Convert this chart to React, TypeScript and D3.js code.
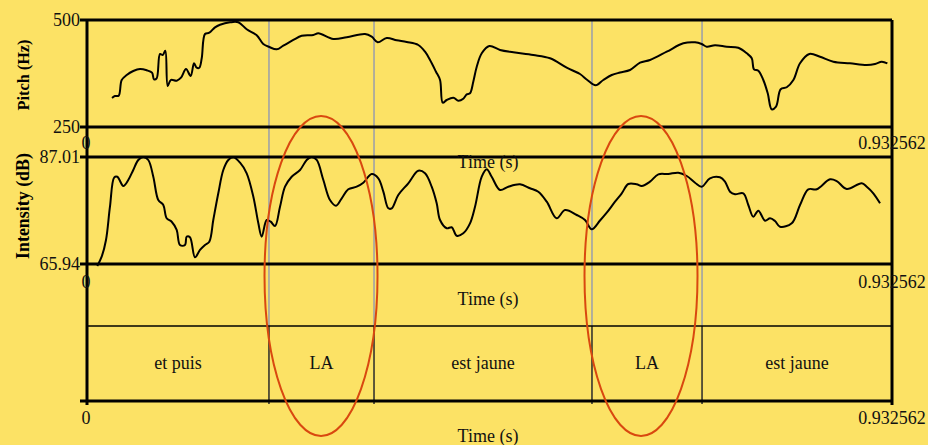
import * as d3 from "d3"
import React, { useRef, useEffect } from "react"

const duration = 0.932562

// pitch contour (s, Hz)
const pitchTime = [0.0290, 0.0324, 0.0367, 0.0402, 0.0460, 0.0536, 0.0614, 0.0692, 0.0753, 0.0776, 0.0807, 0.0846, 0.0877, 0.0907, 0.0935, 0.0970, 0.1039, 0.1089, 0.1147, 0.1201, 0.1240, 0.1271, 0.1301, 0.1329, 0.1367, 0.1417, 0.1483, 0.1541, 0.1657, 0.1753, 0.1850, 0.1966, 0.2042, 0.2112, 0.2198, 0.2274, 0.2390, 0.2487, 0.2622, 0.2680, 0.2853, 0.3009, 0.3221, 0.3298, 0.3368, 0.3472, 0.3588, 0.3704, 0.3838, 0.3916, 0.3974, 0.4043, 0.4090, 0.4121, 0.4167, 0.4244, 0.4302, 0.4359, 0.4399, 0.4437, 0.4475, 0.4515, 0.4573, 0.4661, 0.4785, 0.4939, 0.5170, 0.5364, 0.5557, 0.5711, 0.5796, 0.5893, 0.5981, 0.6079, 0.6175, 0.6291, 0.6407, 0.6522, 0.6716, 0.6908, 0.7044, 0.7121, 0.7179, 0.7275, 0.7411, 0.7545, 0.7643, 0.7701, 0.7727, 0.7777, 0.7835, 0.7886, 0.7932, 0.7982, 0.8036, 0.8106, 0.8183, 0.8260, 0.8368, 0.8492, 0.8646, 0.8839, 0.9033, 0.9129, 0.9207, 0.9272]
const pitchHz = [317.8, 322.4, 323.1, 359.8, 371.5, 380.8, 385.5, 382.5, 376.9, 361.4, 363.8, 420.6, 418.2, 428.3, 345.8, 359.8, 358.2, 365.2, 385.5, 369.2, 398.8, 388.5, 388.5, 410.5, 467.3, 470.3, 482.9, 489.0, 494.6, 494.6, 478.3, 464.3, 443.9, 436.9, 431.5, 440.0, 453.3, 463.3, 464.9, 468.9, 455.6, 459.6, 467.3, 461.0, 447.9, 457.9, 452.6, 448.6, 441.6, 425.9, 406.5, 379.2, 359.8, 306.8, 313.1, 318.5, 311.4, 316.1, 326.4, 328.7, 355.8, 390.9, 422.2, 439.2, 429.9, 424.5, 418.2, 410.5, 388.5, 373.8, 359.8, 347.4, 359.8, 371.5, 377.3, 383.2, 400.2, 406.5, 425.9, 445.6, 447.9, 443.9, 437.6, 440.9, 437.6, 435.3, 422.2, 410.5, 384.8, 381.5, 359.8, 328.7, 291.4, 297.4, 338.1, 342.8, 359.8, 398.8, 420.6, 414.2, 402.6, 398.8, 394.9, 397.2, 402.6, 398.8]

// intensity contour (s, dB)
const intTime = [0.0119, 0.0170, 0.0220, 0.0266, 0.0316, 0.0351, 0.0421, 0.0478, 0.0536, 0.0594, 0.0652, 0.0710, 0.0768, 0.0826, 0.0884, 0.0923, 0.0981, 0.1039, 0.1077, 0.1135, 0.1155, 0.1193, 0.1251, 0.1309, 0.1367, 0.1417, 0.1463, 0.1521, 0.1579, 0.1637, 0.1695, 0.1773, 0.1850, 0.1927, 0.1985, 0.2024, 0.2082, 0.2128, 0.2178, 0.2236, 0.2294, 0.2371, 0.2468, 0.2545, 0.2603, 0.2661, 0.2738, 0.2815, 0.2885, 0.2951, 0.3027, 0.3124, 0.3201, 0.3298, 0.3375, 0.3433, 0.3491, 0.3530, 0.3606, 0.3722, 0.3838, 0.3916, 0.3993, 0.4051, 0.4090, 0.4167, 0.4225, 0.4283, 0.4359, 0.4437, 0.4495, 0.4573, 0.4631, 0.4688, 0.4785, 0.4881, 0.5016, 0.5132, 0.5228, 0.5326, 0.5441, 0.5538, 0.5673, 0.5769, 0.5847, 0.5943, 0.6021, 0.6117, 0.6195, 0.6271, 0.6368, 0.6426, 0.6522, 0.6619, 0.6734, 0.6850, 0.6948, 0.7044, 0.7121, 0.7217, 0.7333, 0.7391, 0.7449, 0.7507, 0.7603, 0.7661, 0.7719, 0.7777, 0.7855, 0.7913, 0.7970, 0.8028, 0.8164, 0.8260, 0.8356, 0.8454, 0.8608, 0.8685, 0.8801, 0.8975, 0.9033, 0.9109, 0.9187]
const intDb = [65.55, 67.38, 70.67, 77.22, 83.01, 83.13, 81.30, 82.48, 84.45, 86.42, 87.0, 86.42, 83.13, 78.54, 77.56, 74.94, 74.27, 72.64, 69.68, 69.68, 71.32, 71.20, 67.26, 68.70, 69.68, 70.33, 74.60, 79.86, 84.45, 86.42, 86.95, 85.89, 83.80, 79.19, 73.95, 71.32, 74.60, 74.27, 73.42, 77.22, 81.16, 83.13, 84.45, 86.42, 87.0, 86.42, 82.48, 78.54, 77.42, 78.88, 80.65, 81.16, 81.95, 83.66, 82.82, 80.18, 76.91, 76.91, 79.53, 81.83, 84.31, 83.80, 81.16, 77.89, 74.60, 72.97, 73.17, 71.51, 71.99, 73.95, 77.22, 83.13, 84.59, 83.13, 80.51, 81.16, 81.63, 80.85, 80.18, 78.21, 74.94, 76.57, 75.59, 74.60, 72.77, 74.5, 76.04, 78.21, 79.86, 81.69, 81.63, 81.30, 82.15, 83.60, 83.66, 83.92, 83.27, 81.95, 81.16, 82.82, 83.01, 82.15, 80.18, 79.67, 79.86, 77.56, 75.25, 76.44, 74.47, 74.94, 74.41, 73.29, 73.95, 77.56, 80.65, 80.65, 82.62, 82.28, 80.71, 81.83, 81.16, 79.86, 77.89]

// text grid tier
const tierBounds = [0.2108, 0.3325, 0.5850, 0.7125]
const tierLabels = ["et puis", "LA", "est jaune", "LA", "est jaune"]

const pitchRange = [250, 500]
const intRange = [65.94, 87.01]
const pitchTicks = ["250", "500"]
const intTicks = ["65.94", "87.01"]

// circled intervals (centre time)
const circleCentres = [0.2711, 0.6418]

const serif = "'Liberation Serif', 'Times New Roman', serif"

function App() {
    const ref = useRef(null)

    useEffect(() => {
        const svg = d3.select(ref.current)
        svg.selectAll("*").remove()

        const left = 87, right = 892
        const x = d3.scaleLinear().domain([0, duration]).range([left, right])
        const yP = d3.scaleLinear().domain(pitchRange).range([127, 20])
        const yI = d3.scaleLinear().domain(intRange).range([264, 157])
        const tierTop = 326, tierBottom = 401

        svg.append("rect").attr("width", 928).attr("height", 445).attr("fill", "#fce265")

        // grey boundary lines through the analyses
        svg.selectAll(".gline").data(tierBounds).enter().append("line")
            .attr("x1", d => x(d)).attr("x2", d => x(d))
            .attr("y1", 20).attr("y2", tierTop)
            .attr("stroke", "#9a9eab").attr("stroke-width", 1.5)

        // tier boundaries
        svg.selectAll(".tline").data(tierBounds).enter().append("line")
            .attr("x1", d => x(d)).attr("x2", d => x(d))
            .attr("y1", tierTop).attr("y2", tierBottom + 3)
            .attr("stroke", "#2a2a2a").attr("stroke-width", 1.5)

        // curves
        const pitchLine = d3.line<number>().x((d, i) => x(pitchTime[i])).y(d => yP(d))
            .curve(d3.curveCatmullRom.alpha(0.5))
        svg.append("path").attr("d", pitchLine(pitchHz))
            .attr("fill", "none").attr("stroke", "#000").attr("stroke-width", 2)

        const intLine = d3.line<number>().x((d, i) => x(intTime[i])).y(d => yI(d))
            .curve(d3.curveCatmullRom.alpha(0.5))
        svg.append("path").attr("d", intLine(intDb))
            .attr("fill", "none").attr("stroke", "#000").attr("stroke-width", 2)

        // frame lines
        const hLines = [yP(500), yP(250), yI(87.01), yI(65.94), tierBottom]
        svg.selectAll(".hline").data(hLines).enter().append("line")
            .attr("x1", left - 7).attr("x2", right)
            .attr("y1", d => d).attr("y2", d => d)
            .attr("stroke", "#000").attr("stroke-width", 3)
        svg.append("line").attr("x1", left).attr("x2", right)
            .attr("y1", tierTop).attr("y2", tierTop)
            .attr("stroke", "#000").attr("stroke-width", 1.5)
        ;[left, right].forEach(v => {
            svg.append("line").attr("x1", v).attr("x2", v)
                .attr("y1", 20).attr("y2", tierBottom + 4)
                .attr("stroke", "#000").attr("stroke-width", 3)
        })

        // value labels
        const text = (s, tx, ty, anchor = "middle") =>
            svg.append("text").attr("x", tx).attr("y", ty).text(s)
                .attr("text-anchor", anchor)
                .attr("font-family", serif).attr("font-size", "18px").attr("fill", "#111")

        text(pitchTicks[1], left - 7, yP(500) + 6, "end")
        text(pitchTicks[0], left - 7, yP(250) + 6, "end")
        text(intTicks[1], left - 7, yI(87.01) + 6, "end")
        text(intTicks[0], left - 7, yI(65.94) + 6, "end")

        const bottoms = [[149, 168], [288, 305], [424, 442]]
        bottoms.forEach(([b, t]) => {
            text("0", left - 1, b)
            text(duration.toString(), right, b)
            text("Time (s)", 488, t)
        })

        // tier labels
        const edges = [0, ...tierBounds, duration]
        tierLabels.forEach((s, i) => {
            text(s, (x(edges[i]) + x(edges[i + 1])) / 2, 369)
        })

        // axis titles
        svg.append("text").attr("transform", "translate(29,75) rotate(-90)")
            .attr("text-anchor", "middle").attr("font-family", serif).attr("font-weight", "bold")
            .attr("font-size", "17px").attr("textLength", 71).attr("lengthAdjust", "spacingAndGlyphs")
            .text("Pitch (Hz)")
        svg.append("text").attr("transform", "translate(29,206) rotate(-90)")
            .attr("text-anchor", "middle").attr("font-family", serif).attr("font-weight", "bold")
            .attr("font-size", "18px").attr("textLength", 106).attr("lengthAdjust", "spacingAndGlyphs")
            .text("Intensity (dB)")

        // red ellipses round the LA syllables
        svg.selectAll(".ring").data(circleCentres).enter().append("ellipse")
            .attr("cx", d => x(d)).attr("cy", 276)
            .attr("rx", 56.5).attr("ry", 160)
            .attr("fill", "none").attr("stroke", "#d9480f").attr("stroke-width", 2)
    }, [])

    return (
        <svg ref={ref} width={928} height={445}
            style={{ position: "absolute", left: 0, top: 0, display: "block" }}>
        </svg>
    )
}

export default App
